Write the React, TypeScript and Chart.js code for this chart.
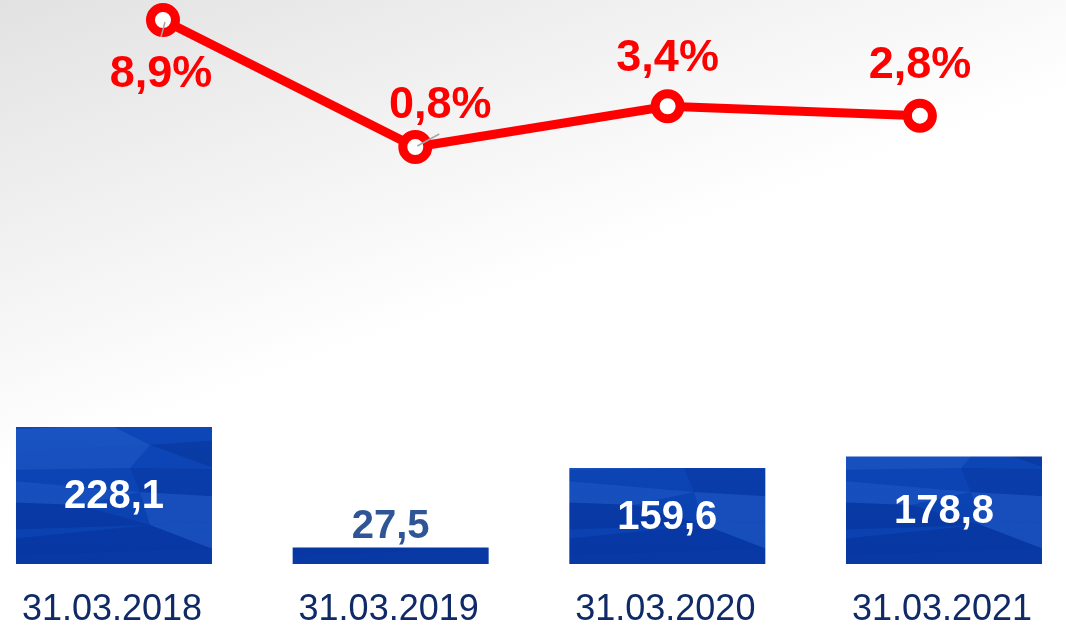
import React, { useEffect, useRef } from "react";
import { Chart, registerables } from "chart.js";

Chart.register(...registerables);

const categories = ["31.03.2018", "31.03.2019", "31.03.2020", "31.03.2021"];
const barValues = [228.1, 27.5, 159.6, 178.8];
const lineValues = [8.9, 0.8, 3.4, 2.8];

const FONT = '"Liberation Sans", Arial, Helvetica, sans-serif';
const fmt = (v: number) => v.toFixed(1).replace(".", ",");

function makeBarPattern(ctx: CanvasRenderingContext2D): CanvasPattern | string {
  const c = document.createElement("canvas");
  c.width = 277;
  c.height = 627;
  const g = c.getContext("2d");
  if (!g) return "#0b43b4";
  const base = g.createLinearGradient(0, 420, 0, 570);
  base.addColorStop(0, "#0d47b8");
  base.addColorStop(1, "#0a3fae");
  g.fillStyle = base;
  g.fillRect(0, 0, c.width, c.height);
  // facets (tile-local coordinates; bars sit at x 16..212, y ~427..564)
  const polys: [string, number[][]][] = [
    ["rgba(70,130,230,0.22)", [[0, 430], [110, 425], [150, 445], [0, 452]]],
    ["rgba(4,36,130,0.30)", [[150, 445], [277, 436], [277, 455], [220, 470]]],
    ["rgba(80,140,235,0.18)", [[0, 452], [150, 445], [130, 468], [0, 470]]],
    ["rgba(4,40,140,0.25)", [[130, 468], [277, 470], [277, 500], [140, 492]]],
    ["rgba(70,130,230,0.20)", [[0, 480], [140, 492], [80, 505], [0, 502]]],
    ["rgba(4,36,130,0.28)", [[0, 502], [80, 505], [150, 525], [0, 530]]],
    ["rgba(75,135,232,0.18)", [[140, 492], [277, 500], [277, 520], [150, 525]]],
    ["rgba(4,38,135,0.30)", [[0, 540], [150, 525], [210, 548], [0, 556]]],
    ["rgba(80,140,235,0.18)", [[150, 525], [277, 520], [277, 545], [210, 548]]],
    ["rgba(4,36,130,0.25)", [[0, 556], [210, 548], [277, 560], [277, 575], [0, 575]]],
  ];
  for (const [col, pts] of polys) {
    g.fillStyle = col;
    g.beginPath();
    g.moveTo(pts[0][0], pts[0][1]);
    for (let i = 1; i < pts.length; i++) g.lineTo(pts[i][0], pts[i][1]);
    g.closePath();
    g.fill();
  }
  const p = ctx.createPattern(c, "repeat");
  return p || "#0b43b4";
}

const backgroundPlugin = {
  id: "bgGradient",
  beforeDraw(chart: any) {
    const { ctx, width, height } = chart;
    ctx.save();
    const grd = ctx.createLinearGradient(0, 0, 150, 420);
    grd.addColorStop(0, "#e2e2e2");
    grd.addColorStop(1, "#ffffff");
    ctx.fillStyle = grd;
    ctx.fillRect(0, 0, width, height);
    ctx.restore();
  },
};

const lineLabelOffsets = [
  { dx: -2, dy: 67, leader: [2, 2, -2, 17] },
  { dx: 25, dy: -29, leader: [2, -1, 24, -13] },
  { dx: 0, dy: -35, leader: null },
  { dx: 0, dy: -38, leader: null },
];

const labelsPlugin = {
  id: "valueLabels",
  afterDatasetsDraw(chart: any) {
    const { ctx } = chart;
    ctx.save();
    const barMeta = chart.getDatasetMeta(1);
    barMeta.data.forEach((el: any, i: number) => {
      const { x, y, base } = el.getProps(["x", "y", "base"], true);
      const h = base - y;
      ctx.textAlign = "center";
      ctx.font = `bold 40px ${FONT}`;
      if (h > 60) {
        ctx.fillStyle = "#ffffff";
        ctx.textBaseline = "middle";
        ctx.fillText(fmt(barValues[i]), x, (y + base) / 2 + 2);
      } else {
        ctx.fillStyle = "#2f5597";
        ctx.textBaseline = "alphabetic";
        ctx.fillText(fmt(barValues[i]), x, y - 9);
      }
      ctx.font = `36px ${FONT}`;
      ctx.fillStyle = "#0f2a66";
      ctx.textBaseline = "alphabetic";
      ctx.fillText(categories[i], x - 2, 620);
    });
    const lineMeta = chart.getDatasetMeta(0);
    lineMeta.data.forEach((el: any, i: number) => {
      const { x, y } = el.getProps(["x", "y"], true);
      const o = lineLabelOffsets[i];
      if (o.leader) {
        ctx.strokeStyle = "#a6a6a6";
        ctx.lineWidth = 1.5;
        ctx.beginPath();
        ctx.moveTo(x + o.leader[0], y + o.leader[1]);
        ctx.lineTo(x + o.leader[2], y + o.leader[3]);
        ctx.stroke();
      }
      ctx.font = `bold 45px ${FONT}`;
      ctx.fillStyle = "#ff0000";
      ctx.textAlign = "center";
      ctx.textBaseline = "alphabetic";
      ctx.fillText(fmt(lineValues[i]) + "%", x + o.dx, y + o.dy);
    });
    ctx.restore();
  },
};

export default function App() {
  const ref = useRef<HTMLCanvasElement | null>(null);
  useEffect(() => {
    const canvas = ref.current;
    if (!canvas) return;
    const ctx = canvas.getContext("2d");
    if (!ctx) return;
    const pattern = makeBarPattern(ctx);
    const indexTicks = (axis: any) => {
      axis.ticks = categories.map((_, i) => ({ value: i }));
    };
    const chart = new Chart(ctx, {
      type: "bar",
      data: {
        datasets: [
          {
            type: "line",
            label: "rate",
            data: lineValues.map((v, i) => ({ x: i, y: v })),
            xAxisID: "x2",
            yAxisID: "y2",
            borderColor: "#ff0000",
            borderWidth: 9,
            pointRadius: 12.5,
            pointHoverRadius: 12.5,
            pointBorderWidth: 9,
            pointBackgroundColor: "#ffffff",
            pointBorderColor: "#ff0000",
            tension: 0,
            clip: false,
            order: 0,
          } as any,
          {
            type: "bar",
            label: "value",
            data: barValues.map((v, i) => ({ x: i, y: v })),
            xAxisID: "x",
            yAxisID: "y",
            backgroundColor: pattern as any,
            borderWidth: 0,
            grouped: false,
            categoryPercentage: 1,
            barPercentage: 0.7084,
            order: 1,
          } as any,
        ],
      },
      options: {
        animation: false,
        responsive: false,
        layout: { padding: 0, autoPadding: false },
        plugins: {
          legend: { display: false },
          tooltip: { enabled: false },
        },
        scales: {
          x: {
            type: "linear",
            display: false,
            offset: false,
            grid: { offset: false },
            min: -0.412,
            max: 3.441,
            afterBuildTicks: indexTicks,
          },
          y: { type: "linear", display: false, min: -104.8, max: 938.4 },
          x2: {
            type: "linear",
            display: false,
            offset: false,
            min: -0.646,
            max: 3.579,
            afterBuildTicks: indexTicks,
          },
          y2: { type: "linear", display: false, min: -29.81, max: 10.175 },
        },
      } as any,
      plugins: [backgroundPlugin, labelsPlugin],
    });
    return () => chart.destroy();
  }, []);
  return (
    <div style={{ position: "absolute", left: 0, top: 0, width: 1066, height: 627 }}>
      <canvas ref={ref} width={1066} height={627} style={{ display: "block" }} />
    </div>
  );
}
